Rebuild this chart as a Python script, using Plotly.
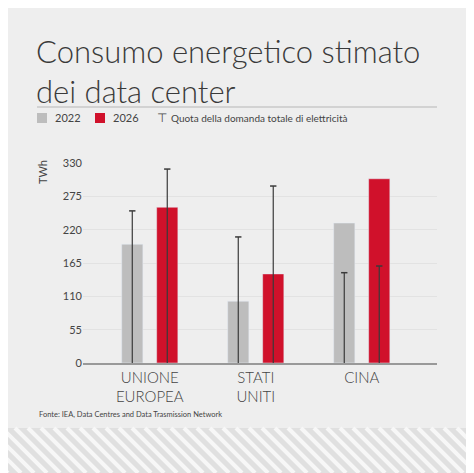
import plotly.graph_objects as go

categories = ["UNIONE<br>EUROPEA", "STATI<br>UNITI", "CINA"]
v2022 = [196, 102, 231]
v2026 = [257, 147, 304]
quota2022 = [251, 208, 149]
quota2026 = [320, 292, 160]
yticks = [0, 55, 110, 165, 220, 275, 330]

OFF = 8  # page body margin
W, H = 474 - OFF, 473 - OFF
L, R, T, B = 83 - OFF, 437 - OFF, 163 - OFF, 363 - OFF
def px(x): return (x - OFF - L) / (R - L)
def py(y): return (B - (y - OFF)) / (B - T)

xs = list(range(len(categories)))
off = 0.165
bw = 0.2
fig = go.Figure()
fig.add_bar(x=[i - off for i in xs], y=v2022, width=bw, marker_color="#bdbdbd", showlegend=False)
fig.add_bar(x=[i + off for i in xs], y=v2026, width=bw, marker_color="#d0112b", showlegend=False)
for sgn, q in ((-1, quota2022), (1, quota2026)):
    for i, val in zip(xs, q):
        fig.add_scatter(x=[i + sgn * off, i + sgn * off], y=[0, val], mode="lines",
                        line=dict(color="#3a3a3a", width=1.2), showlegend=False, hoverinfo="skip")
        fig.add_scatter(x=[i + sgn * off - 0.03, i + sgn * off + 0.03], y=[val, val], mode="lines",
                        line=dict(color="#3a3a3a", width=1.5), showlegend=False, hoverinfo="skip")

shapes = []
shapes.append(dict(type="rect", xref="paper", yref="paper", x0=px(0), x1=px(474 + 10), y0=py(428), y1=py(480),
                   fillcolor="#e0e0e0", line_width=0, layer="below"))
x = -50
while x < 480:
    shapes.append(dict(type="line", xref="paper", yref="paper", x0=px(x), y0=py(428), x1=px(x + 45), y1=py(473),
                       line=dict(color="#f7f7f7", width=4), layer="below"))
    x += 13
shapes.append(dict(type="line", xref="paper", yref="paper", x0=px(37), x1=px(437), y0=py(107), y1=py(107),
                   line=dict(color="#b5b5b5", width=1.2)))
shapes.append(dict(type="rect", xref="paper", yref="paper", x0=px(37), x1=px(47), y0=py(113), y1=py(123),
                   fillcolor="#bdbdbd", line_width=0))
shapes.append(dict(type="rect", xref="paper", yref="paper", x0=px(95), x1=px(105), y0=py(113), y1=py(123),
                   fillcolor="#d0112b", line_width=0))

font = "Lato, Roboto, sans-serif"
ann = [
    dict(x=px(34), y=py(30), text="Consumo energetico stimato<br>dei data center", xanchor="left", yanchor="top",
         font=dict(size=31, color="#3a3a3a", family="Lato Light, Lato, sans-serif"), align="left"),
    dict(x=px(53), y=py(118), text="2022", xanchor="left", yanchor="middle", font=dict(size=11, color="#444")),
    dict(x=px(111), y=py(118), text="2026", xanchor="left", yanchor="middle", font=dict(size=11, color="#444")),
    dict(x=px(155), y=py(118), text="⊤", xanchor="left", yanchor="middle", font=dict(size=12, color="#444")),
    dict(x=px(169), y=py(118), text="Quota della domanda totale di elettricità", xanchor="left", yanchor="middle",
         font=dict(size=10, color="#444")),
    dict(x=px(42), y=py(172), text="TWh", textangle=-90, xanchor="center", yanchor="middle",
         font=dict(size=11, color="#444")),
    dict(x=px(37), y=py(414), text="Fonte: IEA, Data Centres and Data Trasmission Network", xanchor="left",
         yanchor="middle", font=dict(size=7.5, color="#444")),
]
for a in ann:
    a.update(xref="paper", yref="paper", showarrow=False)

fig.update_layout(
    width=W, height=H, margin=dict(l=L, r=W - R, t=T, b=H - B),
    paper_bgcolor="#eeeeee", plot_bgcolor="#eeeeee",
    font=dict(family=font, color="#444"),
    barmode="overlay", shapes=shapes, annotations=ann,
    xaxis=dict(range=[-0.63, 2.71], tickvals=xs, ticktext=categories, showgrid=False,
               showline=True, linecolor="#999", linewidth=1.5,
               tickfont=dict(size=15, color="#444", family="Lato Light, Lato, sans-serif"),
               ticks="", zeroline=False, fixedrange=True),
    yaxis=dict(range=[0, 330], tickvals=yticks, showgrid=True, gridcolor="#e2e2e2", zeroline=False,
               tickfont=dict(size=11, color="#444"), ticks="", fixedrange=True),
)
fig.write_html("out.html")
